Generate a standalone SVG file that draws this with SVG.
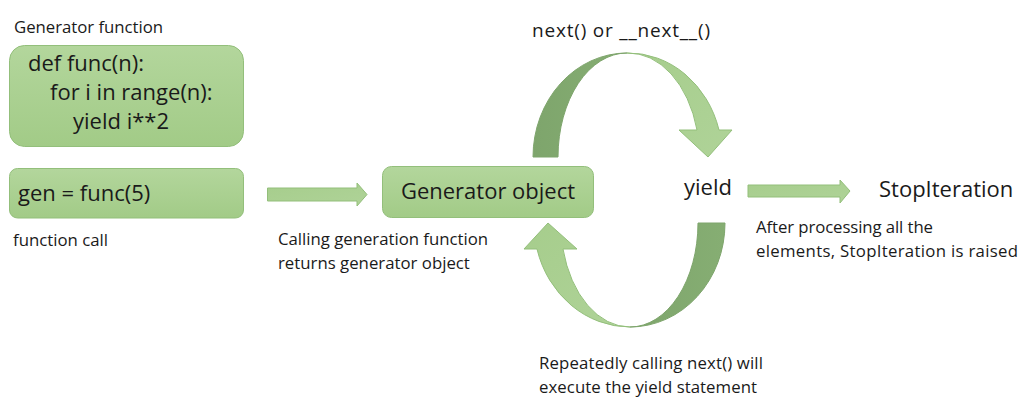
<svg xmlns="http://www.w3.org/2000/svg" width="1024" height="409" viewBox="0 0 1024 409">
<defs>
<linearGradient id="boxg" x1="0" y1="0" x2="0" y2="1">
<stop offset="0" stop-color="#b3d69c"/>
<stop offset="1" stop-color="#a2cb87"/>
</linearGradient>
<linearGradient id="lightg" x1="0" y1="0" x2="1" y2="1">
<stop offset="0" stop-color="#a6cd8c"/>
<stop offset="1" stop-color="#afd398"/>
</linearGradient>
<linearGradient id="darkg" x1="0" y1="0" x2="1" y2="0">
<stop offset="0" stop-color="#7ea56c"/>
<stop offset="1" stop-color="#86ae73"/>
</linearGradient>
</defs>
<style>
text{font-family:"Open Sans","Liberation Sans",sans-serif;fill:#1a1a1a}
.s{font-size:16.8px}
.n{font-size:19px}
.b{font-size:22px}
.box{fill:url(#boxg);stroke:#93bf7b;stroke-width:1}
.arr{fill:url(#lightg);stroke:#93bf7b;stroke-width:1;stroke-linejoin:round}
.dark{fill:url(#darkg);stroke:#7ea56c;stroke-width:1}
</style>
<g id="label-genfunc"><text class="s" x="14" y="33" textLength="149">Generator function</text></g>
<g id="genfunc">
<rect class="box" x="9.5" y="45.5" width="234" height="101" rx="15"/>
<text class="b" x="28" y="71">def func(n):</text>
<text class="b" x="50" y="100">for i in range(n):</text>
<text class="b" x="73" y="129">yield i**2</text>
</g>
<g id="gencall">
<rect class="box" x="9.5" y="168.5" width="234" height="49.5" rx="8"/>
<text class="b" x="18" y="201">gen = func(5)</text>
</g>
<g id="label-call"><text class="s" x="13" y="246" textLength="95">function call</text></g>
<g id="genobj">
<rect class="box" x="382.5" y="166.5" width="211" height="51" rx="9"/>
<text class="b" x="488" y="199" text-anchor="middle">Generator object</text>
</g>
<g id="label-calling">
<text class="s" x="278" y="245" textLength="210">Calling generation function</text>
<text class="s" x="278" y="269">returns generator object</text>
</g>
<g id="yield"><text class="b" x="684" y="195">yield</text></g>
<g id="stop"><text class="b" x="879" y="197">StopIteration</text></g>
<g id="label-stop">
<text class="s" x="756" y="233" textLength="177">After processing all the</text>
<text class="s" x="756" y="257" textLength="262">elements, StopIteration is raised</text>
</g>
<g id="label-next"><text class="n" x="532" y="37" textLength="178">next() or __next__()</text></g>
<g id="label-repeat">
<text class="s" x="539" y="369" textLength="224">Repeatedly calling next() will</text>
<text class="s" x="539" y="393" textLength="218">execute the yield statement</text>
</g>
<g id="connectors">
<path class="arr" d="M267.5,188 H357 V183 L367,194.5 L357,206 V201 H267.5 Z"/>
<path class="arr" d="M748,185 H840 V180 L850,191 L840,203 V197 H748 Z"/>
<path class="dark" d="M533,157 A94,104 0 0 1 627,53 A69,104 0 0 0 558,157 Z"/>
<path class="arr" d="M627,53 A94,104 0 0 1 719,130 L732,130 L708,157 L679,130 L697,130 A71,104 0 0 0 627,53 Z"/>
<path class="dark" d="M725,223 A95,104 0 0 1 630,327 A68,104 0 0 0 698,223 Z"/>
<path class="arr" d="M630,327 A96,104 0 0 1 537,249 L524,249 L548,223 L577,249 L563,249 A69,104 0 0 0 630,327 Z"/>
</g>
</svg>
